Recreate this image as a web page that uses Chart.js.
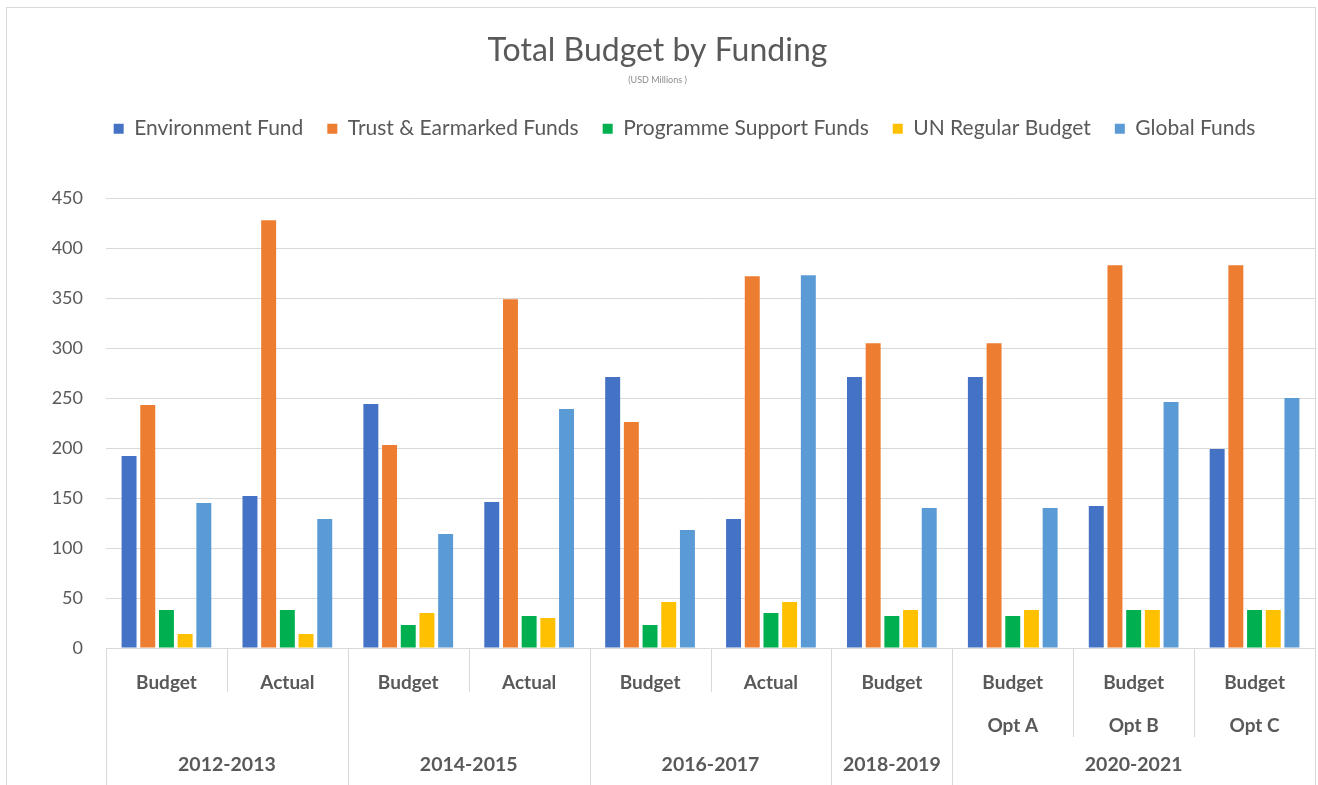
<!DOCTYPE html>
<html>
<head>
<meta charset="utf-8">
<script src="https://cdn.jsdelivr.net/npm/chart.js@4.4.1/dist/chart.umd.min.js"></script>
<style>
  html, body { margin: 0; padding: 0; background: #fff; }
  #wrap { position: relative; width: 1318px; height: 785px; }
</style>
</head>
<body>
<div id="wrap"><canvas id="chart"></canvas></div>
<script>
// categorias (nivel 1) e anos (nivel 2)
const categories = [
    ['Budget'], ['Actual'],
    ['Budget'], ['Actual'],
    ['Budget'], ['Actual'],
    ['Budget'],
    ['Budget', 'Opt A'], ['Budget', 'Opt B'], ['Budget', 'Opt C']
];
const yearLabels = ['2012-2013', '2014-2015', '2016-2017', '2018-2019', '2020-2021'];
const yearSpans = [2, 2, 2, 1, 3];

// valores (USD milhoes)
const environmentFund = [192, 152, 244, 146, 271, 129, 271, 271, 142, 199];
const trustFunds = [243, 428, 203, 349, 226, 372, 305, 305, 383, 383];
const programmeSupport = [38, 38, 23, 32, 23, 35, 32, 32, 38, 38];
const unRegularBudget = [14, 14, 35, 30, 46, 46, 38, 38, 38, 38];
const globalFunds = [145, 129, 114, 239, 118, 373, 140, 140, 246, 250];

const yMin = 0;
const yMax = 450;
const yStep = 50;

const textColor = '#595959';
const fontFamily = 'Lato, "Open Sans", sans-serif';

// moldura cinza em volta do grafico
const frame = {
    id: 'frame',
    beforeDraw(chart) {
        const ctx = chart.ctx;
        ctx.save();
        ctx.strokeStyle = '#d9d9d9';
        ctx.lineWidth = 1;
        ctx.strokeRect(6.5, 7.5, chart.width - 9, chart.height + 10);
        ctx.restore();
    }
};

// espaco extra abaixo da legenda e legenda um pouco para a direita
const legendGap = {
    id: 'legendGap',
    beforeInit(chart) {
        const fit = chart.legend.fit;
        chart.legend.fit = function () {
            fit.call(this);
            this.height += 49;
        };
        const draw = chart.legend.draw;
        chart.legend.draw = function () {
            this.ctx.save();
            this.ctx.translate(27, 0);
            draw.call(this);
            this.ctx.restore();
        };
    }
};

// separadores e rotulos dos anos no eixo x
const yearAxis = {
    id: 'yearAxis',
    afterDraw(chart) {
        const x = chart.scales.x;
        const ctx = chart.ctx;
        const bottom = chart.chartArea.bottom;
        const w = x.getPixelForValue(1) - x.getPixelForValue(0);
        const edge = i => x.getPixelForValue(i) - w / 2;

        ctx.save();
        ctx.strokeStyle = '#d9d9d9';
        ctx.lineWidth = 1;
        ctx.fillStyle = textColor;
        ctx.font = 'bold 19.5px ' + fontFamily;
        ctx.textAlign = 'center';
        ctx.textBaseline = 'middle';

        let start = 0;
        yearSpans.forEach((span, k) => {
            const l = Math.round(edge(start)) + 0.5;
            ctx.beginPath();
            ctx.moveTo(l, bottom);
            ctx.lineTo(l, chart.height);
            ctx.stroke();
            for (let i = start + 1; i < start + span; i++) {
                const lines = Math.max(categories[i].length, categories[i - 1].length);
                const p = Math.round(edge(i)) + 0.5;
                ctx.beginPath();
                ctx.moveTo(p, bottom);
                ctx.lineTo(p, bottom + 45 * lines - 1);
                ctx.stroke();
            }
            const mid = (edge(start) + edge(start + span)) / 2;
            ctx.fillText(yearLabels[k], mid, bottom + 117);
            start += span;
        });
        ctx.restore();
    }
};

const ctx = document.getElementById('chart').getContext('2d');

new Chart(ctx, {
    type: 'bar',
    data: {
        labels: categories,
        datasets: [
            { label: 'Environment Fund', data: environmentFund, backgroundColor: '#4472C4' },
            { label: 'Trust & Earmarked Funds', data: trustFunds, backgroundColor: '#ED7D31' },
            { label: 'Programme Support Funds', data: programmeSupport, backgroundColor: '#00B050' },
            { label: 'UN Regular Budget', data: unRegularBudget, backgroundColor: '#FFC000' },
            { label: 'Global Funds', data: globalFunds, backgroundColor: '#5B9BD5' }
        ]
    },
    options: {
        responsive: true,
        maintainAspectRatio: false,
        animation: false,
        categoryPercentage: 0.773,
        barPercentage: 0.8,
        layout: { padding: { top: 8, right: 3, left: 0, bottom: 0 } },
        plugins: {
            title: {
                display: true,
                text: 'Total Budget by Funding',
                color: textColor,
                font: { family: fontFamily, size: 32, weight: 'normal' },
                padding: { top: 23, bottom: 2 }
            },
            subtitle: {
                display: true,
                text: '(USD Millions )',
                color: '#8c8c8c',
                font: { family: fontFamily, size: 9 },
                padding: { top: 3, bottom: 9 }
            },
            legend: {
                position: 'top',
                labels: {
                    boxWidth: 10,
                    boxHeight: 10,
                    padding: 24,
                    color: textColor,
                    font: { family: fontFamily, size: 21 }
                }
            },
            tooltip: { enabled: false }
        },
        scales: {
            x: {
                grid: { display: false },
                border: { display: false },
                ticks: {
                    autoSkip: false,
                    maxRotation: 0,
                    padding: 5,
                    color: textColor,
                    font: { family: fontFamily, size: 19, weight: 'bold', lineHeight: 43 / 19 }
                },
                afterFit(scale) { scale.height = 137; }
            },
            y: {
                min: yMin,
                max: yMax,
                grid: { color: '#d9d9d9', drawTicks: false },
                border: { display: false },
                ticks: {
                    stepSize: yStep,
                    padding: 23,
                    color: textColor,
                    font: { family: fontFamily, size: 18 }
                },
                afterFit(scale) { scale.width = 106; }
            }
        }
    },
    plugins: [frame, legendGap, yearAxis]
});
</script>
</body>
</html>
